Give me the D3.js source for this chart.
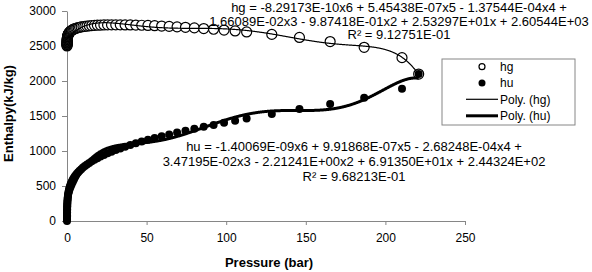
<!DOCTYPE html>
<html>
<head>
<meta charset="utf-8">
<script src="https://cdn.jsdelivr.net/npm/d3@7"></script>
<style>
  html, body { margin: 0; padding: 0; background: #fff; }
  svg { display: block; font-family: "Liberation Sans", Arial, sans-serif; }
</style>
</head>
<body>
<svg id="chart" width="592" height="272"></svg>
<script>
// ---- data (saturated water: pressure in bar, enthalpies in kJ/kg) ----
const pressure = [0.0061, 0.0087, 0.0123, 0.0171, 0.0234, 0.0317, 0.0425, 0.0563, 0.0739, 0.0960,
  0.1235, 0.1576, 0.1995, 0.2504, 0.3120, 0.3860, 0.4742, 0.5787, 0.7018, 0.8461,
  1.0142, 1.209, 1.434, 1.692, 1.987, 2.322, 2.703, 3.132, 3.615, 4.157,
  4.762, 5.435, 6.182, 7.009, 7.922, 8.926, 10.03, 11.24, 12.55, 13.99,
  15.55, 17.24, 19.08, 21.06, 23.20, 25.50, 27.97, 30.63, 33.47, 36.51,
  39.76, 43.23, 46.92, 50.85, 55.03, 59.46, 64.17, 69.15, 74.42, 79.99,
  85.88, 92.09, 98.65, 105.6, 112.84, 128.65, 146.01, 165.29, 186.66, 210.43, 220.9];
const hg = [2500.9, 2510.1, 2519.2, 2528.4, 2537.4, 2546.5, 2555.6, 2564.6, 2573.5, 2582.4,
  2591.3, 2600.1, 2608.8, 2617.5, 2626.1, 2634.6, 2643.0, 2651.4, 2659.6, 2667.6,
  2675.6, 2683.4, 2691.1, 2698.6, 2705.9, 2713.1, 2720.1, 2726.9, 2733.5, 2739.8,
  2745.9, 2751.8, 2757.5, 2762.8, 2767.9, 2772.7, 2777.2, 2781.4, 2785.3, 2788.9,
  2792.0, 2794.8, 2797.2, 2799.1, 2800.6, 2801.6, 2802.2, 2802.3, 2802.0, 2801.1,
  2800.9, 2799.0, 2796.6, 2793.5, 2789.7, 2785.0, 2779.9, 2773.7, 2766.7, 2758.7,
  2749.6, 2739.4, 2727.9, 2715.0, 2700.6, 2666.0, 2622.3, 2563.6, 2481.5, 2333.8, 2099.3];
const hu = [0.0, 21.0, 42.0, 63.0, 83.9, 104.8, 125.7, 146.6, 167.5, 188.4,
  209.3, 230.3, 251.2, 272.1, 293.1, 314.0, 335.0, 356.0, 377.0, 398.1,
  419.2, 440.3, 461.4, 482.6, 503.8, 525.1, 546.4, 567.8, 589.2, 610.6,
  632.2, 653.8, 675.5, 697.2, 719.1, 741.0, 763.1, 785.2, 807.4, 829.8,
  852.3, 874.9, 897.6, 920.5, 943.6, 966.8, 990.1, 1013.7, 1037.5, 1061.5,
  1085.8, 1110.2, 1134.9, 1160.0, 1185.3, 1210.9, 1236.9, 1263.3, 1290.0, 1317.3,
  1344.8, 1373.1, 1402.2, 1431.9, 1462.9, 1528.2, 1599.7, 1670.9, 1761.5, 1890.5, 2099.3];

// polynomial trendline coefficients (x^6 ... x^0), as printed on the chart
const hgCoef = [-8.29173E-10, 5.45438E-07, -1.37544E-04, 1.66089E-02, -9.87418E-01, 2.53297E+01, 2.60544E+03];
const huCoef = [-1.40069E-09, 9.91868E-07, -2.68248E-04, 3.47195E-02, -2.21241E+00, 6.91350E+01, 2.44324E+02];

const xTicks = [0, 50, 100, 150, 200, 250];
const yTicks = [0, 500, 1000, 1500, 2000, 2500, 3000];

const hgEquation = ["hg = -8.29173E-10x6 + 5.45438E-07x5 - 1.37544E-04x4 +",
  "1.66089E-02x3 - 9.87418E-01x2 + 2.53297E+01x + 2.60544E+03",
  "R² = 9.12751E-01"];
const huEquation = ["hu = -1.40069E-09x6 + 9.91868E-07x5 - 2.68248E-04x4 +",
  "3.47195E-02x3 - 2.21241E+00x2 + 6.91350E+01x + 2.44324E+02",
  "R² = 9.68213E-01"];
const legendLabels = ["hg", "hu", "Poly. (hg)", "Poly. (hu)"];

// ---- drawing ----
const svg = d3.select("#chart");
const x = d3.scaleLinear().domain([0, 250]).range([67, 465]);
const y = d3.scaleLinear().domain([0, 3000]).range([221, 11]);
const axisColor = "#868686";

const gx = svg.append("g").attr("transform", "translate(0,221)")
  .call(d3.axisBottom(x).tickValues(xTicks).tickFormat(d3.format("d"))
    .tickSize(4).tickSizeOuter(0).tickPadding(8));
const gy = svg.append("g").attr("transform", "translate(67,0)")
  .call(d3.axisLeft(y).tickValues(yTicks).tickFormat(d3.format("d"))
    .tickSize(5).tickSizeOuter(0).tickPadding(6));
[gx, gy].forEach(g => {
  g.select(".domain").attr("stroke", axisColor).attr("stroke-width", 1);
  g.selectAll(".tick line").attr("stroke", axisColor);
  g.selectAll(".tick text").attr("fill", "#000").style("font-size", "12px")
    .style("font-family", '"Liberation Sans", Arial, sans-serif');
});

svg.append("text").attr("x", 269).attr("y", 267).attr("text-anchor", "middle")
  .style("font-size", "13px").style("font-weight", "bold").text("Pressure (bar)");
svg.append("text").attr("transform", "translate(12.5,113.5) rotate(-90)").attr("text-anchor", "middle")
  .style("font-size", "13px").style("font-weight", "bold").text("Enthalpy(kJ/kg)");

const pts = pressure.map((p, i) => ({p, hg: hg[i], hu: hu[i]}));

// hg markers (open circles)
svg.append("g").selectAll("circle").data(pts).join("circle")
  .attr("cx", d => x(d.p)).attr("cy", d => y(d.hg)).attr("r", 5)
  .attr("fill", "#fff").attr("stroke", "#000").attr("stroke-width", 1.2);
// hu markers (filled)
svg.append("g").selectAll("circle").data(pts).join("circle")
  .attr("cx", d => x(d.p)).attr("cy", d => y(d.hu)).attr("r", 4)
  .attr("fill", "#000");

// trendlines
const poly = (c, v) => c.reduce((acc, k) => acc * v + k, 0);
const pMin = d3.min(pressure), pMax = d3.max(pressure);
const xs = d3.range(pMin, pMax, 0.25).concat([pMax]);
const line = coef => d3.line().x(v => x(v)).y(v => y(poly(coef, v)))(xs);
svg.append("path").attr("d", line(hgCoef)).attr("fill", "none").attr("stroke", "#000").attr("stroke-width", 1.2);
svg.append("path").attr("d", line(huCoef)).attr("fill", "none").attr("stroke", "#000").attr("stroke-width", 3);

// equations
function eq(lines, cx, ys) {
  svg.append("g").selectAll("text").data(lines).join("text")
    .attr("x", cx).attr("y", (d, i) => ys[i]).attr("text-anchor", "middle")
    .style("font-size", "13px").attr("fill", "#000").text(d => d);
}
eq(hgEquation, 399, [12, 25.5, 39]);
eq(huEquation, 354, [151, 166, 180.5]);

// legend
const lg = svg.append("g");
lg.append("rect").attr("x", 442).attr("y", 59).attr("width", 133).attr("height", 66)
  .attr("fill", "#fff").attr("stroke", axisColor).attr("stroke-width", 1);
const rowY = [66.7, 83, 99.3, 115.8];
lg.append("circle").attr("cx", 482).attr("cy", rowY[0]).attr("r", 3)
  .attr("fill", "#fff").attr("stroke", "#000").attr("stroke-width", 1.2);
lg.append("circle").attr("cx", 482).attr("cy", rowY[1]).attr("r", 3.5).attr("fill", "#000");
lg.append("line").attr("x1", 466).attr("x2", 498).attr("y1", rowY[2]).attr("y2", rowY[2])
  .attr("stroke", "#000").attr("stroke-width", 1.2);
lg.append("line").attr("x1", 466).attr("x2", 498).attr("y1", rowY[3]).attr("y2", rowY[3])
  .attr("stroke", "#000").attr("stroke-width", 3);
lg.selectAll("text.lab").data(legendLabels).join("text").attr("class", "lab")
  .attr("x", 500).attr("y", (d, i) => rowY[i] + 4.3)
  .style("font-size", "12px").attr("fill", "#000").text(d => d);
</script>
</body>
</html>
